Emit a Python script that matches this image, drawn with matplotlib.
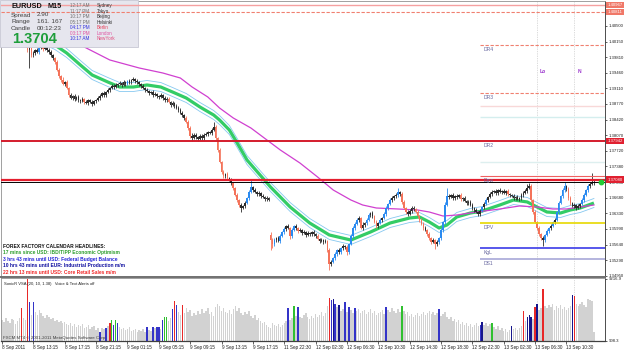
import matplotlib
matplotlib.use("Agg")
import matplotlib.pyplot as plt
import matplotlib.transforms as mtransforms
from matplotlib.patches import Rectangle
import numpy as np

plt.rcParams['font.family'] = ['Liberation Sans', 'DejaVu Sans']

# ---------------- DATA ----------------
closes = [
    1.4023, 1.4019, 1.4028, 1.4030, 1.4023, 1.4014, 1.4019, 1.4023, 1.4030, 1.4026,
    1.4019, 1.4014, 1.4006, 1.3997, 1.4001, 1.3985, 1.3990, 1.3997, 1.3992, 1.4001,
    1.4006, 1.3999, 1.4003, 1.3997, 1.3992, 1.3985, 1.3979, 1.3970, 1.3952, 1.3939,
    1.3930, 1.3921, 1.3925, 1.3912, 1.3897, 1.3890, 1.3894, 1.3888, 1.3892, 1.3885,
    1.3883, 1.3888, 1.3881, 1.3879, 1.3885, 1.3881, 1.3877, 1.3883, 1.3885, 1.3890,
    1.3894, 1.3901, 1.3897, 1.3903, 1.3908, 1.3912, 1.3917, 1.3914, 1.3919, 1.3921,
    1.3923, 1.3919, 1.3925, 1.3921, 1.3928, 1.3925, 1.3930, 1.3932, 1.3928, 1.3925,
    1.3921, 1.3917, 1.3912, 1.3908, 1.3905, 1.3901, 1.3903, 1.3897, 1.3899, 1.3894,
    1.3892, 1.3897, 1.3890, 1.3885, 1.3888, 1.3881, 1.3874, 1.3879, 1.3872, 1.3868,
    1.3863, 1.3857, 1.3852, 1.3845, 1.3837, 1.3823, 1.3805, 1.3801, 1.3808, 1.3803,
    1.3799, 1.3805, 1.3801, 1.3808, 1.3810, 1.3814, 1.3812, 1.3819, 1.3825, 1.3801,
    1.3774, 1.3748, 1.3725, 1.3716, 1.3721, 1.3712, 1.3708, 1.3701, 1.3690, 1.3674,
    1.3663, 1.3652, 1.3645, 1.3650, 1.3656, 1.3667, 1.3681, 1.3692, 1.3685, 1.3681,
    1.3676, 1.3679, 1.3672, 1.3670, 1.3665, 1.3667, 1.3663, 1.3574, 1.3565, 1.3574,
    1.3578, 1.3572, 1.3583, 1.3592, 1.3599, 1.3605, 1.3601, 1.3583, 1.3596, 1.3605,
    1.3601, 1.3594, 1.3596, 1.3590, 1.3592, 1.3585, 1.3590, 1.3587, 1.3592, 1.3587,
    1.3583, 1.3576, 1.3572, 1.3574, 1.3570, 1.3572, 1.3552, 1.3521, 1.3525, 1.3534,
    1.3543, 1.3552, 1.3547, 1.3556, 1.3561, 1.3558, 1.3547, 1.3565, 1.3583, 1.3601,
    1.3610, 1.3619, 1.3623, 1.3601, 1.3607, 1.3612, 1.3619, 1.3630, 1.3634, 1.3627,
    1.3614, 1.3605, 1.3612, 1.3619, 1.3623, 1.3632, 1.3645, 1.3654, 1.3663, 1.3667,
    1.3672, 1.3674, 1.3681, 1.3676, 1.3659, 1.3645, 1.3636, 1.3632, 1.3639, 1.3645,
    1.3643, 1.3636, 1.3627, 1.3619, 1.3610, 1.3601, 1.3596, 1.3587, 1.3578, 1.3570,
    1.3574, 1.3565, 1.3570, 1.3578, 1.3596, 1.3614, 1.3652, 1.3672, 1.3670, 1.3674,
    1.3667, 1.3672, 1.3670, 1.3674, 1.3665, 1.3667, 1.3661, 1.3656, 1.3659, 1.3652,
    1.3645, 1.3641, 1.3636, 1.3632, 1.3639, 1.3647, 1.3654, 1.3663, 1.3670, 1.3676,
    1.3681, 1.3683, 1.3679, 1.3685, 1.3681, 1.3683, 1.3679, 1.3683, 1.3676, 1.3674,
    1.3672, 1.3667, 1.3670, 1.3665, 1.3667, 1.3674, 1.3679, 1.3683, 1.3690, 1.3694,
    1.3663, 1.3636, 1.3614, 1.3601, 1.3587, 1.3578, 1.3574, 1.3585, 1.3594, 1.3601,
    1.3605, 1.3614, 1.3619, 1.3636, 1.3656, 1.3672, 1.3685, 1.3694, 1.3687, 1.3667,
    1.3656, 1.3650, 1.3652, 1.3645, 1.3650, 1.3654, 1.3663, 1.3674, 1.3685, 1.3694,
    1.3699, 1.3701, 1.3704,
]
upper_wick_pips = [
    3,4,2,5,3,2,4,3,5,2, 3,4,3,6,4,3,5,2,4,3,
    4,3,5,2,3,4,2,3,5,4, 3,6,2,4,3,5,3,4,2,5,
    3,4,2,5,3,3,4,2,3,5, 4,3,5,2,4,3,5,3,4,2,
    4,3,5,3,2,4,3,5,2,4, 3,2,5,3,4,2,3,5,4,3,
    3,5,2,4,3,4,3,5,2,4, 3,4,3,2,5,3,4,6,3,5,
    3,4,5,3,4,2,3,5,11,4, 3,4,2,5,3,4,3,5,2,3,
    4,3,5,2,4,3,5,15,3,4, 3,5,2,4,3,5,3,7,4,5,
    3,4,5,3,4,2,5,3,4,3, 5,2,4,3,5,3,4,2,3,4,
    3,5,2,4,3,4,3,5,4,3, 5,3,4,2,5,3,4,3,5,4,
    3,5,4,3,6,3,4,5,3,4, 3,5,2,4,3,5,4,3,5,4,
    3,4,9,3,4,5,3,4,3,5, 4,3,4,2,5,3,4,3,5,2,
    4,3,5,3,4,3,6,18,4,3, 5,3,4,2,4,3,5,3,4,3,
    5,3,4,3,4,3,5,4,3,5, 4,3,4,3,5,2,4,3,4,3,
    3,4,3,5,3,4,3,4,8,6, 4,3,4,3,5,3,4,3,4,3,
    5,3,4,3,5,3,4,9,3,5, 4,3,5,3,4,3,5,4,3,4,
    5,22,4,
]
lower_wick_pips = [
    4,3,5,3,4,2,3,5,3,4, 2,5,3,4,40,4,3,5,3,4,
    3,4,3,5,4,3,5,4,3,5, 4,3,5,2,4,3,5,4,3,4,
    5,3,4,2,5,3,4,3,5,2, 4,3,4,5,3,4,2,5,3,4,
    3,5,2,4,3,5,4,3,5,3, 4,5,3,4,2,5,3,4,3,5,
    4,3,5,3,4,2,5,3,4,3, 5,3,4,5,3,4,5,6,3,5,
    4,3,5,4,3,5,3,4,3,5, 4,3,5,4,3,5,3,4,5,3,
    4,5,9,3,4,3,5,3,4,3, 5,3,4,3,5,4,3,22,8,5,
    4,3,5,3,4,5,3,6,4,3, 4,5,3,4,3,5,3,4,3,5,
    4,3,5,3,4,3,5,13,4,3, 5,4,3,5,4,3,6,4,3,5,
    4,3,5,3,4,3,5,3,4,5, 3,4,5,3,4,3,5,4,3,4,
    3,5,4,3,4,3,5,4,3,5, 4,3,4,5,3,4,3,5,4,5,
    3,11,4,5,3,4,5,3,4,3, 5,3,4,3,5,4,3,5,4,3,
    4,5,3,4,5,3,4,3,5,3, 4,3,5,4,3,4,3,5,3,4,
    3,5,4,3,4,3,5,3,4,3, 4,5,3,5,4,5,13,4,3,5,
    4,3,5,3,4,3,5,4,3,5, 4,3,5,4,3,5,3,4,3,5,
    4,3,5,
]
gap_bar = 137
gap_open = 1.3585

volumes = [
    3720, 3450, 3990, 3590, 3320, 3860, 3720, 3180, 3590, 3990,
    5330, 3990, 3720, 9216.9, 6130, 4390, 6130, 4800, 4390, 5060,
    4660, 4260, 3990, 4390, 4120, 3860, 3990, 3590, 3720, 3450,
    3590, 3320, 3450, 3180, 3050, 3320, 2920, 3180, 2780, 3050,
    2920, 3180, 2650, 2780, 3050, 2510, 2780, 2920, 2380, 2650,
    2110, 2650, 2510, 2650, 2920, 3320, 3720, 3050, 3720, 3320,
    2780, 2510, 2650, 2380, 2510, 2780, 2240, 2380, 2510, 2110,
    2380, 2240, 2510, 2110, 2780, 2380, 2240, 2780, 2650, 2780,
    2780, 2510, 3720, 4120, 4120, 3590, 3990, 5200, 6270, 5730,
    4800, 4390, 5730, 4660, 5330, 4800, 5060, 4260, 4660, 4390,
    4930, 4530, 5200, 4660, 4930, 5330, 4530, 4800, 4260, 5460,
    5860, 5600, 4930, 5330, 4800, 4660, 5060, 4530, 5200, 5600,
    4930, 5330, 4660, 4390, 4800, 4530, 4930, 4260, 3990, 4390,
    3720, 3990, 3590, 3320, 3450, 3050, 2780, 2650, 3320, 3050,
    2920, 3180, 2780, 3050, 3320, 3590, 5330, 3720, 3990, 5600,
    4260, 5460, 4120, 3990, 4390, 4660, 4120, 3860, 4260, 3990,
    4530, 4120, 4390, 4800, 4260, 4660, 5600, 6670, 6400, 6530,
    5860, 5460, 5730, 4930, 5200, 6130, 4800, 5460, 5060, 4660,
    5330, 4930, 5200, 4660, 4930, 5060, 4530, 4800, 5200, 4660,
    4930, 4390, 4660, 4800, 5060, 4530, 5460, 5060, 4800, 5330,
    4930, 4660, 5200, 4800, 5600, 4930, 4530, 4800, 4260, 4530,
    4120, 4390, 4660, 4260, 4530, 4800, 4390, 4660, 4930, 4530,
    4800, 4390, 4660, 5200, 4260, 4530, 4800, 4120, 3860, 4120,
    3590, 3860, 3450, 3720, 3180, 3450, 3050, 3320, 2920, 3180,
    2780, 3050, 3320, 2920, 3050, 3450, 3050, 3320, 2920, 3180,
    3320, 2780, 2510, 2920, 2380, 2650, 2240, 2510, 2110, 2380,
    2920, 2510, 2650, 2380, 2650, 2920, 4930, 3590, 4120, 4390,
    4120, 3860, 5460, 5860, 5060, 5330, 7880, 5600, 5330, 5730,
    5460, 5860, 5060, 5600, 5330, 5730, 5200, 5460, 5060, 5330,
    5600, 7070, 6940, 5860, 5600, 5860, 6130, 5730, 5460, 6530,
    6400, 6270, 2110,
]
blue_vol_idx = [14, 16, 50, 53, 57, 59, 74, 77, 79, 80, 82, 87, 89, 146, 151, 168,
                170, 175, 177, 180, 196, 223, 244]
navy_vol_idx = [169, 172, 245, 260, 268, 269, 270, 273, 291]
red_vol_idx = [10, 13, 55, 88, 92, 167, 266, 272, 276, 292]
green_vol_idx = [56, 58, 83, 84, 149, 204, 250]

ma_green_idx = [0, 14, 27, 33, 40, 46, 54, 60, 67, 74, 81, 87, 94, 101, 108, 111, 116,
                120, 125, 137, 147, 157, 167, 178, 188, 198, 208, 213, 218, 223, 227,
                232, 239, 245, 254, 261, 268, 273, 278, 285, 290, 295, 302]
ma_green = [1.40522, 1.40344, 1.40077, 1.39899, 1.39632, 1.39410, 1.39254, 1.39143,
            1.39143, 1.39188, 1.39143, 1.39032, 1.38898, 1.38698, 1.38520, 1.38409,
            1.38187, 1.37898, 1.37520, 1.36919, 1.36474, 1.36118, 1.35852, 1.35740,
            1.35918, 1.36118, 1.36230, 1.36252, 1.36141, 1.36007, 1.36074, 1.36252,
            1.36341, 1.36385, 1.36519, 1.36630, 1.36586, 1.36474, 1.36363, 1.36341,
            1.36408, 1.36452, 1.36563]
ma_magenta_idx = [0, 19, 40, 55, 70, 82, 91, 97, 105, 111, 118, 127, 142, 152, 161, 169,
                  178, 184, 191, 202, 212, 218, 225, 232, 242, 254, 264, 273, 281, 288,
                  295, 302]
ma_magenta = [1.40678, 1.40411, 1.40077, 1.39744, 1.39566, 1.39455, 1.39343, 1.39143,
              1.38921, 1.38676, 1.38454, 1.38231, 1.37742, 1.37453, 1.37142, 1.36852,
              1.36630, 1.36519, 1.36452, 1.36430, 1.36408, 1.36363, 1.36274, 1.36296,
              1.36363, 1.36430, 1.36497, 1.36474, 1.36430, 1.36430, 1.36474, 1.36519]
envelope_offset = 0.0010

xtick_bars = [0, 16, 32, 48, 64, 80, 96, 112, 128, 144, 160, 176, 192, 208, 224, 240,
              256, 272, 288]
xtick_labels = ["8 Sep 2011", "8 Sep 13:15", "8 Sep 17:15", "8 Sep 21:15", "9 Sep 01:15",
                "9 Sep 05:15", "9 Sep 09:15", "9 Sep 13:15", "9 Sep 17:15", "11 Sep 22:30",
                "12 Sep 02:30", "12 Sep 06:30", "12 Sep 10:30", "12 Sep 14:30",
                "12 Sep 18:30", "12 Sep 22:30", "13 Sep 02:30", "13 Sep 06:30",
                "13 Sep 10:30"]
price_ticks = [1.40500, 1.40150, 1.39810, 1.39460, 1.39110, 1.38770, 1.38420, 1.38070,
               1.37720, 1.37380, 1.37030, 1.36680, 1.36330, 1.35990, 1.35640, 1.35290,
               1.34950]

full_levels = [1.40967, 1.40811, 1.37942, 1.37080, 1.37040]
pivot_names = ["DR4", "DR3", "DR2", "Dgw", "DPV", "KgL", "DS1"]
pivot_values = [1.40077, 1.39010, 1.37942, 1.37164, 1.36119, 1.35563, 1.35318]
pivot_start_bar = 244
session_bars = [273, 292]
session_names = ["Lo", "N"]
bid = 1.3704

info_left = [("EURUSD", "M15"), ("Spread", "2.90"), ("Range", "161. 167"),
             ("Candle", "00:12:23")]
clock_times = ["12:17 AM", "11:17 PM", "10:17 PM", "05:17 PM", "04:17 PM", "03:17 PM",
               "10:17 AM"]
clock_cities = ["Sydney", "Tokyo", "Beijing", "Helsinki", "Berlin", "London", "NewYork"]
headlines = ["FOREX FACTORY CALENDAR HEADLINES:",
             "17 mins since USD: IBD/TIPP Economic Optimism",
             "3 hrs 43 mins until USD: Federal Budget Balance",
             "10 hrs 43 mins until EUR: Industrial Production m/m",
             "22 hrs 13 mins until USD: Core Retail Sales m/m"]
vol_min, vol_max = 908.3, 9216.9

# ---------------- LAYOUT ----------------
W, H = 625, 352
def fx(p): return p / W
def fy(p): return 1 - p / H

fig = plt.figure(figsize=(W / 100, H / 100), dpi=100)
fig.patch.set_facecolor('white')
ax = fig.add_axes([fx(1), fy(277), 604 / W, 276 / H])
ax2 = fig.add_axes([fx(1), fy(341), 604 / W, 63 / H])

xl = ((1 - 2) / 1.96, (605 - 2) / 1.96)
for a in (ax, ax2):
    a.set_xlim(*xl)
    a.set_facecolor('white')

ax.set_ylim(1.349175, 1.410558)

# ---------------- CANDLES ----------------
c = np.array(closes)
n = len(c)
x = np.arange(n)
o = np.r_[c[0], c[:-1]]
o[gap_bar] = gap_open
hi = np.maximum(o, c) + np.array(upper_wick_pips) * 1e-4
lo = np.minimum(o, c) - np.array(lower_wick_pips) * 1e-4
body = (c - o) * 1e4
BULL, BEAR, NEU = '#2A8AF0', '#F4735A', '#2B2B2B'
cols = [BULL if b >= 7 else (BEAR if b <= -7 else NEU) for b in body]
ax.vlines(x, lo, hi, colors=cols, linewidth=0.6, zorder=3)
bh = np.maximum(np.abs(c - o), 0.00004)
ax.bar(x, bh, bottom=np.minimum(o, c), width=0.85, color=cols, linewidth=0, zorder=3)

# ---------------- MOVING AVERAGES ----------------
gi = np.array(ma_green_idx); gv = np.array(ma_green)
ax.plot(gi, gv + envelope_offset, color='#86C8F0', lw=0.6, zorder=2.5)
ax.plot(gi, gv - envelope_offset, color='#86C8F0', lw=0.6, zorder=2.5)
ax.plot(gi, gv, color='#33CC66', lw=2.3, zorder=2.6, solid_capstyle='butt')
ax.plot(ma_magenta_idx, ma_magenta, color='#D040D0', lw=0.9, zorder=2.6)

# ---------------- INFO BOX ----------------
ax.add_patch(Rectangle((0, fy(47)), fx(138), 47 / H, transform=fig.transFigure,
                       facecolor='#E6E6EE', edgecolor='#C8C8D4', lw=0.6,
                       zorder=5, clip_on=False))

# ---------------- LEVEL LINES ----------------
lvl_style = [dict(color='#F5A0A0', lw=1.0, ls='-'),
             dict(color='#F08070', lw=0.8, ls=(0, (3, 1.5))),
             dict(color='#D41C2C', lw=1.4, ls='-'),
             dict(color='#E41E2E', lw=1.6, ls='-'),
             dict(color='#000000', lw=0.7, ls='-')]
for v, st in zip(full_levels, lvl_style):
    ax.axhline(v, zorder=6, **st)

piv_style = {"DR4": dict(color='#F08070', lw=0.8, ls=(0, (3, 1.5))),
             "DR3": dict(color='#F08070', lw=0.8, ls=(0, (3, 1.5))),
             "DR2": dict(color='#D41C2C', lw=0.0, ls='-'),
             "Dgw": dict(color='#F06060', lw=0.8, ls='-'),
             "DPV": dict(color='#E6D800', lw=1.2, ls='-'),
             "KgL": dict(color='#3B3BE8', lw=1.2, ls='-'),
             "DS1": dict(color='#A8A8D8', lw=1.2, ls='-')}
for name, v in zip(pivot_names, pivot_values):
    st = piv_style[name]
    if st['lw'] > 0:
        ax.hlines(v, pivot_start_bar, xl[1], zorder=6, **st)
    ax.text(pivot_start_bar + 1.5, v - 0.00035, name, fontsize=3.6, color='#6868A0',
            va='top', ha='left', zorder=7)
# faint helper levels
for v, colr in [(1.38721, '#F8D8D8'), (1.38476, '#D4EEEE'), (1.37475, '#DDEFEF')]:
    ax.hlines(v, pivot_start_bar, xl[1], color=colr, lw=1.0, zorder=1.5)

# session lines
for a in (ax, ax2):
    for b in session_bars:
        a.axvline(b, color='#BBBBBB', lw=0.5, ls=(0, (1, 1.5)), zorder=1)
for b, nm in zip(session_bars, session_names):
    ax.text(b + 1.5, 1.39477, nm, fontsize=3.6, color='#9932CC', fontweight='bold',
            va='center', ha='left', zorder=7)

# last price dot
ax.plot([305.6], [bid], 'o', color='#22CC33', ms=3.2, zorder=8, clip_on=False)

# ---------------- RIGHT AXIS ----------------
ax.yaxis.tick_right()
ax.set_yticks(price_ticks)
ax.set_yticklabels([f"{v:.5f}" for v in price_ticks])
ax.tick_params(axis='y', labelsize=3.1, length=1.5, width=0.5, pad=1, colors='#202020')
ax.set_xticks([])
blend = mtransforms.blended_transform_factory(ax.transAxes, ax.transData)
for v, colr in [(full_levels[0], '#F07868'), (full_levels[1], '#F07868'),
                (full_levels[2], '#E02030'), (full_levels[3], '#E02030')]:
    ax.text(1.004, v, f"{v:.5f}", transform=blend, fontsize=3.1, color='white',
            va='center', ha='left', zorder=9, clip_on=False,
            bbox=dict(boxstyle='square,pad=0.3', fc=colr, ec='none'))

for sp in ax.spines.values():
    sp.set_color('#909090'); sp.set_linewidth(0.6)
ax.spines['right'].set_color('#303030')
ax.spines['bottom'].set_color('#707070'); ax.spines['bottom'].set_linewidth(1.4)

# ---------------- INFO TEXT ----------------
def ftext(px, py, s, **kw):
    ax.text(fx(px), fy(py), s, transform=fig.transFigure, va='center', ha='left',
            zorder=7, clip_on=False, **kw)

ftext(11, 6, info_left[0][0], fontsize=5.2, fontweight='bold', color='#101010')
ftext(47, 6, info_left[0][1], fontsize=5.2, fontweight='bold', color='#101010')
for k, (lab, val) in enumerate(info_left[1:]):
    yy = 15 + 6.7 * k
    ftext(11, yy, lab, fontsize=4.6, color='#404040')
    ftext(37, yy, val, fontsize=4.6, color='#404040')
ftext(12, 39, f"{bid:.4f}", fontsize=10.5, fontweight='bold', color='#1E9E3A')
time_cols = ['#707070'] * 4 + ['#3333DD', '#E050A0', '#3333DD']
city_cols = ['#303030'] * 4 + ['#E8405A', '#E050A0', '#E05080']
for k, (t, cty) in enumerate(zip(clock_times, clock_cities)):
    yy = 5.7 + 5.55 * k
    ftext(70, yy, t, fontsize=3.3, color=time_cols[k])
    ftext(97, yy, cty, fontsize=3.3, color=city_cols[k])

hl_cols = ['#101010', '#2E9E2E', '#2424D8', '#1010A0', '#F02828']
for k, (s, colr) in enumerate(zip(headlines, hl_cols)):
    ftext(3, 246 + 6.6 * k, s, fontsize=3.5, fontweight='bold', color=colr)

# ---------------- VOLUME PANEL ----------------
vcols = ['#D2D2D2'] * n
for idx in blue_vol_idx: vcols[idx] = '#3434C8'
for idx in navy_vol_idx: vcols[idx] = '#16168C'
for idx in red_vol_idx: vcols[idx] = '#E82828'
for idx in green_vol_idx: vcols[idx] = '#30C030'
ax2.bar(x, volumes, width=0.75, color=vcols, linewidth=0, zorder=2)
ax2.set_ylim(vol_min, vol_max + 134.0)
ax2.yaxis.tick_right()
ax2.set_yticks([vol_min, vol_max])
ax2.set_yticklabels([f"{vol_min:.1f}", f"{vol_max:.1f}"])
ax2.tick_params(axis='y', labelsize=3.1, length=1.5, width=0.5, pad=1, colors='#202020')
ax2.set_xticks(xtick_bars)
ax2.set_xticklabels(xtick_labels, ha='left')
ax2.tick_params(axis='x', labelsize=3.3, length=2, width=0.5, pad=1, colors='#202020')
for sp in ax2.spines.values():
    sp.set_color('#909090'); sp.set_linewidth(0.6)
ax2.spines['right'].set_color('#303030')
ax2.spines['bottom'].set_color('#404040'); ax2.spines['bottom'].set_linewidth(0.9)
ax2.text(fx(4), fy(284), "SonicR VSA (20, 10, 1.38)   Voice & Text Alerts off",
         transform=fig.transFigure, fontsize=3.0, color='#202020', va='center', ha='left',
         zorder=7)
ax2.text(fx(3), fy(338), "FXCM MT4 \u00a9 2001-2011 MetaQuotes Software Corp.",
         transform=fig.transFigure, fontsize=3.2, color='#404040', va='center', ha='left',
         zorder=7)

fig.savefig("out.png", dpi=100, facecolor='white')
